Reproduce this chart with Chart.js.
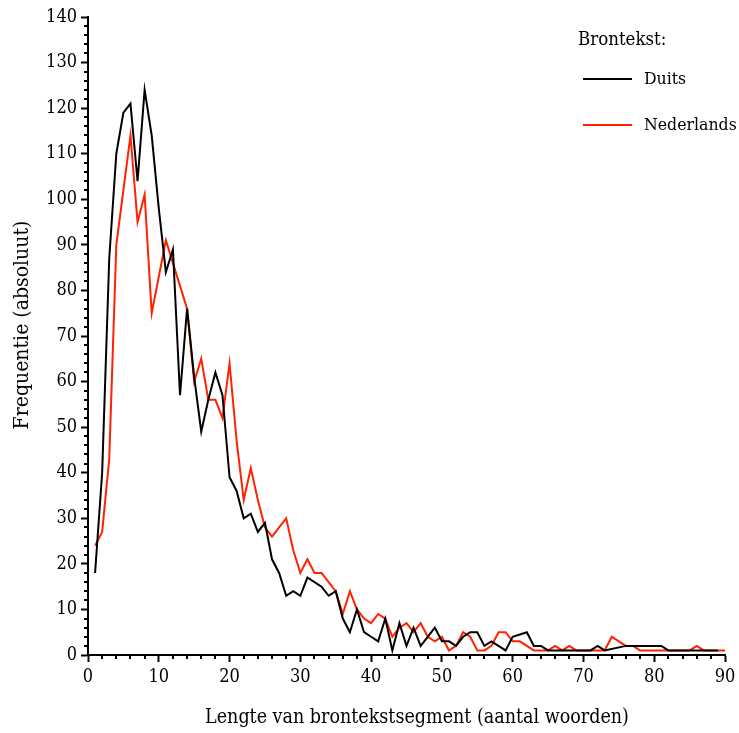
<!DOCTYPE html>
<html>
<head>
<meta charset="utf-8">
<script src="https://cdn.jsdelivr.net/npm/chart.js@4/dist/chart.umd.min.js"></script>
<style>
  html, body { margin: 0; padding: 0; background: #fff; }
  #wrap { width: 739px; height: 733px; }
</style>
</head>
<body>
<div id="wrap"><canvas id="c" width="739" height="733"></canvas></div>
<script>
// Segment length in words (source text)
const lengths = [
   1,  2,  3,  4,  5,  6,  7,  8,  9, 10,
  11, 12, 13, 14, 15, 16, 17, 18, 19, 20,
  21, 22, 23, 24, 25, 26, 27, 28, 29, 30,
  31, 32, 33, 34, 35, 36, 37, 38, 39, 40,
  41, 42, 43, 44, 45, 46, 47, 48, 49, 50,
  51, 52, 53, 54, 55, 56, 57, 58, 59, 60,
  61, 62, 63, 64, 65, 66, 67, 68, 69, 70,
  71, 72, 73, 74, 75, 76, 77, 78, 79, 80,
  81, 82, 83, 84, 85, 86, 87, 88, 89, 90
];

// Frequencies, German source texts (null = no segments of that length)
const duits = [
   18,  40,  87, 110, 119, 121, 104, 124, 114,  98,
   84,  89,  57,  76,  61,  49,  56,  62,  57,  39,
   36,  30,  31,  27,  29,  21,  18,  13,  14,  13,
   17,  16,  15,  13,  14,   8,   5,  10,   5,   4,
    3,   8,   1,   7,   2,   6,   2,   4,   6,   3,
    3,   2,   4,   5,   5,   2,   3,   2,   1,   4,
 null,   5,   2,   2,   1,   1,   1,   1,   1,   1,
    1,   2,   1, null, null,   2,   2,   2,   2,   2,
    2,   1,   1,   1,   1,   1,   1,   1,   1, null
];

// Frequencies, Dutch source texts
const nederlands = [
   24,  27,  43,  90, 102, 114,  95, 101,  75,  83,
   91,  86,  81,  76,  60,  65,  56,  56,  52,  64,
   47,  34,  41,  34,  28,  26,  28,  30,  23,  18,
   21,  18,  18,  16,  14,   9,  14,  10,   8,   7,
    9,   8,   4,   6,   7,   5,   7,   4,   3,   4,
    1,   2,   5,   4,   1,   1,   2,   5,   5,   3,
    3,   2,   1,   1,   1,   2,   1,   2,   1,   1,
    1,   1,   1,   4,   3,   2,   2,   1,   1,   1,
    1,   1,   1,   1,   1,   2,   1,   1,   1,   1
];

const seriesNames = ['Duits', 'Nederlands'];
const seriesColors = ['#000000', '#ff2200'];
const legendTitle = 'Brontekst:';
const xTitle = 'Lengte van brontekstsegment (aantal woorden)';
const yTitle = 'Frequentie (absoluut)';

const FONT = "'DejaVu Serif Condensed', 'DejaVu Serif', serif";

function points(ys) {
  return lengths.map((x, i) => ({ x: x, y: ys[i] }));
}

// Short minor ticks every 2 units on both axes
const minorTicks = {
  id: 'minorTicks',
  afterDraw(chart) {
    const ctx = chart.ctx;
    const xs = chart.scales.x, ys = chart.scales.y;
    const area = chart.chartArea;
    ctx.save();
    ctx.strokeStyle = '#000';
    ctx.lineWidth = 2;
    ctx.beginPath();
    for (let v = xs.min; v <= xs.max; v += 2) {
      if (v % 10 === 0) continue;
      const px = Math.round(xs.getPixelForValue(v));
      ctx.moveTo(px, area.bottom);
      ctx.lineTo(px, area.bottom + 4);
    }
    for (let v = ys.min; v <= ys.max; v += 2) {
      if (v % 10 === 0) continue;
      const py = Math.round(ys.getPixelForValue(v));
      ctx.moveTo(area.left, py);
      ctx.lineTo(area.left - 4, py);
    }
    ctx.stroke();
    ctx.restore();
  }
};

// Axis titles
const axisTitles = {
  id: 'axisTitles',
  afterDraw(chart) {
    const ctx = chart.ctx;
    ctx.save();
    ctx.font = "19.5px " + FONT;
    ctx.fillStyle = '#000';
    ctx.textAlign = 'center';
    ctx.textBaseline = 'middle';
    ctx.fillText(xTitle, 417, 718);
    ctx.translate(23, 325);
    ctx.rotate(-Math.PI / 2);
    ctx.font = "21px " + FONT;
    ctx.fillText(yTitle, 0, 0);
    ctx.restore();
  }
};

// Legend block in the upper right of the plot
const seriesLegend = {
  id: 'seriesLegend',
  afterDraw(chart) {
    const ctx = chart.ctx;
    ctx.save();
    ctx.fillStyle = '#000';
    ctx.textBaseline = 'middle';
    ctx.textAlign = 'left';
    ctx.font = "18.5px " + FONT;
    ctx.fillText(legendTitle, 578, 40);
    ctx.font = "17.5px " + FONT;
    chart.data.datasets.forEach((ds, i) => {
      const y = 79 + i * 46;
      ctx.strokeStyle = ds.borderColor;
      ctx.lineWidth = 2;
      ctx.beginPath();
      ctx.moveTo(583, y);
      ctx.lineTo(632, y);
      ctx.stroke();
      ctx.fillStyle = '#000';
      ctx.fillText(ds.label, 644, y);
    });
    ctx.restore();
  }
};

new Chart(document.getElementById('c'), {
  type: 'line',
  data: {
    datasets: [
      {
        label: seriesNames[0],
        data: points(duits),
        borderColor: seriesColors[0],
        borderWidth: 2,
        pointRadius: 0,
        tension: 0,
        spanGaps: true
      },
      {
        label: seriesNames[1],
        data: points(nederlands),
        borderColor: seriesColors[1],
        borderWidth: 2,
        pointRadius: 0,
        tension: 0,
        spanGaps: true
      }
    ]
  },
  options: {
    responsive: false,
    animation: false,
    devicePixelRatio: 1,
    layout: { padding: { left: 0, right: 14, top: 17, bottom: 0 } },
    plugins: {
      legend: { display: false },
      tooltip: { enabled: false }
    },
    scales: {
      x: {
        type: 'linear',
        min: 0,
        max: 90,
        afterFit(scale) {
          scale.height = 78;
          scale.paddingLeft = 0;
          scale.paddingRight = 0;
        },
        border: { display: true, color: '#000', width: 2 },
        grid: { drawOnChartArea: false, drawTicks: true, tickLength: 7, tickWidth: 2, tickColor: '#000' },
        ticks: { stepSize: 10, color: '#000', padding: 5, maxRotation: 0, font: { family: FONT, size: 18 } },
        title: { display: false }
      },
      y: {
        min: 0,
        max: 140,
        afterFit(scale) {
          scale.width = 88;
          scale.paddingTop = 0;
          scale.paddingBottom = 0;
        },
        border: { display: true, color: '#000', width: 2 },
        grid: { drawOnChartArea: false, drawTicks: true, tickLength: 7, tickWidth: 2, tickColor: '#000' },
        ticks: { stepSize: 10, color: '#000', padding: 4, font: { family: FONT, size: 18 } },
        title: { display: false }
      }
    }
  },
  plugins: [minorTicks, axisTitles, seriesLegend]
});
</script>
</body>
</html>
